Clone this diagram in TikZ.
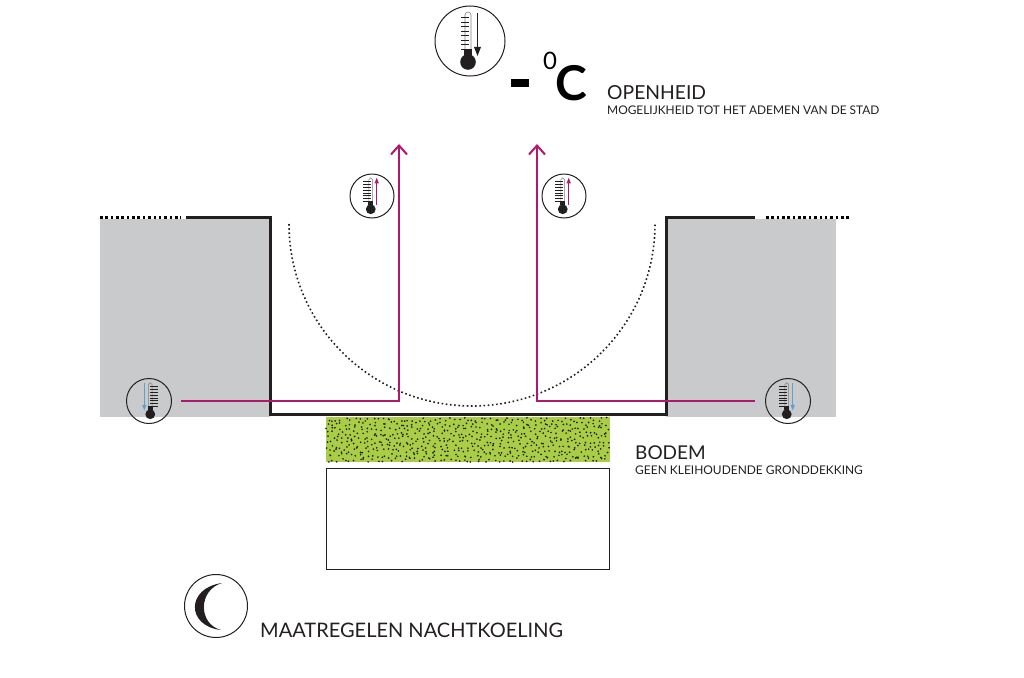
\documentclass[tikz,border=0pt]{standalone}
\usepackage{fontspec}
\setmainfont{Lato}
\usetikzlibrary{arrows.meta}
\definecolor{wallgrey}{HTML}{C9CACB}
\definecolor{magline}{HTML}{B0176E}
\definecolor{soilgreen}{HTML}{A9CE45}
\definecolor{coldblue}{HTML}{5E9FD6}
\definecolor{inkline}{HTML}{231F20}
\tikzset{
  x=1pt,y=-1pt,
  wall/.style={line width=3pt,draw=inkline,line cap=butt,line join=miter},
  walldots/.style={line width=3pt,draw=black,dash pattern=on 2.6pt off 2.75pt},
  flow/.style={line width=2pt,draw=magline,-{Straight Barb[length=9pt,width=16pt,line width=2pt]}},
  ring/.style={circle,draw=inkline,line width=1pt,inner sep=0pt,fill=none},
  heading/.style={anchor=base west,inner sep=0pt,text=inkline},
  sublabel/.style={anchor=base west,inner sep=0pt,text=inkline}
}
% position, scale, mirror, arrow colour, arrow direction (1 down, -1 up)
\newcommand{\thermo}[5]{%
  \begin{scope}[shift={(#1)},xscale=#2*#3,yscale=#2]
    \draw[line width=0.6pt,draw=gray] (-5,8) -- (-5,-26) arc[start angle=180,end angle=0,x radius=3,y radius=-3] -- (1,8);
    \foreach \ty in {-23,-18.5,...,10.5}{\draw[line width=#2*1pt,draw=inkline] ({-1-8/#2},\ty) -- (-1,\ty);}
    \fill[inkline] (-6,8) rectangle (2,15);
    \fill[inkline] (-2,21) circle[radius=7.8];
    \begin{scope}[shift={(7.5,-7)},yscale=#5]
      \draw[line width=#2*1.8pt,draw=#4] (0,-21) -- (0,14);
      \fill[#4] (-3.5,13) -- (3.5,13) -- (0,22) -- cycle;
    \end{scope}
  \end{scope}}
\begin{document}
\begin{tikzpicture}
\useasboundingbox (0,0) rectangle (1024,677);
\fill[white] (0,0) rectangle (1024,677);
% grey blocks
\fill[wallgrey] (100,219) rectangle (270,417);
\fill[wallgrey] (666,219) rectangle (836,417);
% soil
\fill[soilgreen] (326,417) rectangle (610,462);
\pgfmathsetseed{41}
\fill[inkline]
  \foreach \gx in {328,332.5,...,608}{\foreach \gy in {419.5,424,...,460}{
    ({\gx+4.4*rnd-2.2},{\gy+4.2*rnd-2.1}) circle[radius=0.95] }};
\draw[line width=1pt,draw=inkline] (326,468.5) rectangle (609.5,569);
% street profile
\coordinate (wallL) at (186,217);
\coordinate (cornerTL) at (270.5,217);
\coordinate (cornerBL) at (270.5,414);
\coordinate (cornerBR) at (666.5,414);
\coordinate (cornerTR) at (666.5,217);
\coordinate (wallR) at (755,217);
\coordinate (dotsL) at (100,217.5);
\coordinate (dotsLe) at (181,217.5);
\coordinate (dotsR) at (766,217.5);
\coordinate (dotsRe) at (851,217.5);
\draw[wall] (wallL) -- (cornerTL) -- (cornerBL) -- (cornerBR) -- (cornerTR) -- (wallR);
\draw[walldots] (dotsL) -- (dotsLe);
\draw[walldots] (dotsR) -- (dotsRe);
% sky view arc
\draw[line width=1.6pt,draw=inkline,dash pattern=on 1.6pt off 2.6pt]
  (289,224) arc[start angle=180,end angle=360,x radius=183,y radius=-182];
% thermometers
\node[ring,minimum size=70pt] (thermoTop) at (470,41) {};
\thermo{470,41}{1}{1}{inkline}{1}
\node[ring,minimum size=44pt] (thermoUL) at (372,196) {};
\thermo{372,196}{0.63}{1}{magline}{-1}
\node[ring,minimum size=44pt] (thermoUR) at (564,196) {};
\thermo{564,196}{0.63}{1}{magline}{-1}
\node[ring,minimum size=45pt] (thermoLL) at (149,401) {};
\thermo{149,401}{0.63}{-1}{coldblue}{1}
\node[ring,minimum size=45pt] (thermoLR) at (788,401) {};
\thermo{788,401}{0.63}{1}{coldblue}{1}
% flows
\coordinate (bendL) at (399,401);
\coordinate (tipL) at (399,144);
\coordinate (bendR) at (537,401);
\coordinate (tipR) at (537,144);
\coordinate (startL) at (181,401);
\coordinate (startR) at (755,401);
\draw[flow] (startL) -- (bendL) -- (tipL);
\draw[flow] (startR) -- (bendR) -- (tipR);
% temperature sign
\fill[black] (511,79) rectangle (529,86.5);
\node[anchor=base west,inner sep=0pt,font=\fontsize{24}{24}\selectfont] (zero) at (543,70) {0};
\node[anchor=base west,inner sep=0pt,font=\fontsize{48}{48}\selectfont\bfseries] (cel) at (555,100) {C};
% labels
\node[heading,font=\fontsize{19.3}{19}\selectfont] (open) at (607,99.5) {OPENHEID};
\node[sublabel,font=\fontsize{11.9}{12}\selectfont] (opensub) at (607,114) {MOGELIJKHEID TOT HET ADEMEN VAN DE STAD};
\node[heading,font=\fontsize{19}{19}\selectfont] (bodem) at (635,459) {BODEM};
\node[sublabel,font=\fontsize{11.95}{12}\selectfont] (bodemsub) at (635,474) {GEEN KLEIHOUDENDE GRONDDEKKING};
\node[heading,font=\fontsize{20}{20}\selectfont] (maat) at (260,637.5) {MAATREGELEN NACHTKOELING};
% moon
\node[ring,minimum size=63pt] (moonring) at (216,606) {};
\fill[inkline] (222,583) .. controls (186,588) and (186,626) .. (221,630)
  .. controls (198,624) and (198,590) .. (222,583) -- cycle;
\end{tikzpicture}
\end{document}
